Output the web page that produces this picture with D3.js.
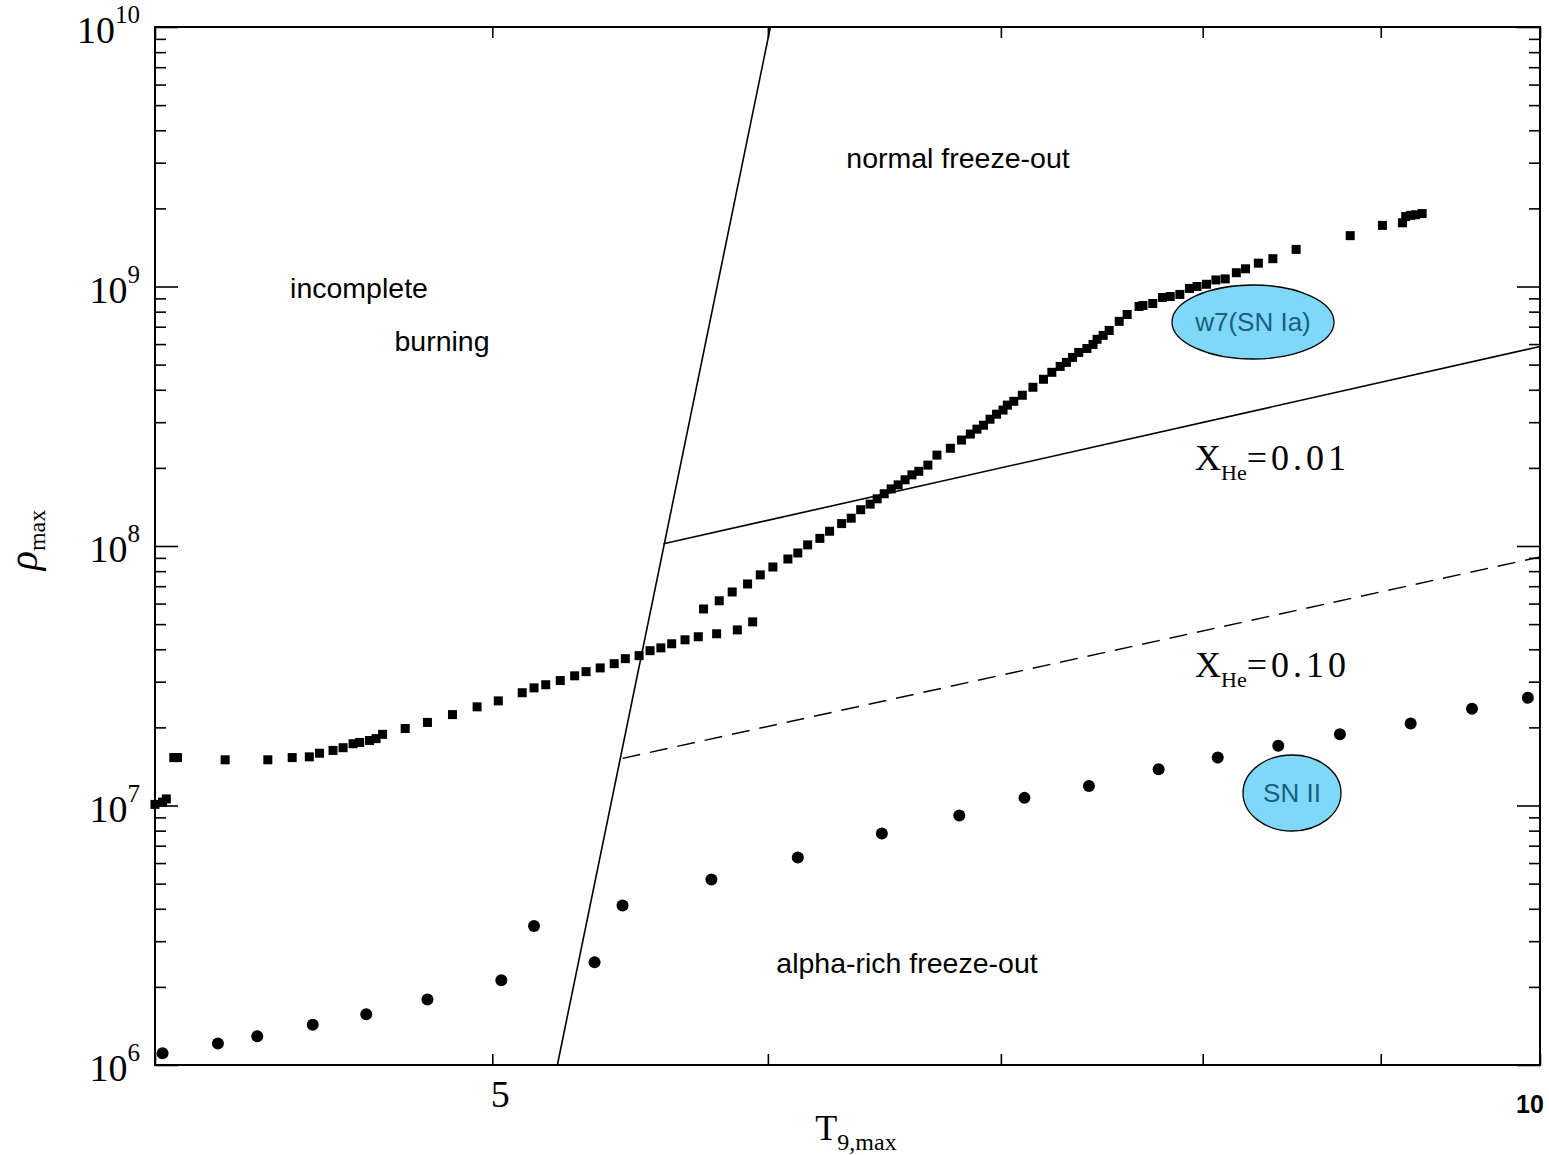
<!DOCTYPE html>
<html>
<head>
<meta charset="utf-8">
<script src="https://cdn.jsdelivr.net/npm/d3@7"></script>
<style>
  body { margin: 0; background: #fff; }
  text { fill: #000; }
</style>
</head>
<body>
<div id="chart"></div>
<script>
// W7 (SN Ia) trajectories, T9 max vs rho max
const w7T = [4.00, 4.02, 4.03, 4.05, 4.06, 4.19, 4.31, 4.38, 4.43, 4.46, 4.50, 4.53, 4.56, 4.58, 4.61, 4.63, 4.65,
  4.72, 4.79, 4.87, 4.95, 5.02, 5.10, 5.14, 5.18, 5.23, 5.28, 5.32, 5.37, 5.42, 5.46, 5.51, 5.55, 5.59, 5.63,
  5.68, 5.73, 5.80, 5.88, 5.94,
  5.75, 5.81, 5.86, 5.92, 5.97, 6.02, 6.08, 6.12, 6.16, 6.21, 6.25, 6.30, 6.34, 6.38, 6.42, 6.45, 6.48, 6.51,
  6.54, 6.57, 6.60, 6.63, 6.67, 6.71, 6.77, 6.82, 6.86, 6.89, 6.92, 6.95, 6.98, 7.01, 7.03, 7.06, 7.10, 7.15,
  7.20, 7.24, 7.28, 7.31, 7.34, 7.37, 7.41, 7.44, 7.46, 7.49, 7.52, 7.57, 7.61, 7.67, 7.69, 7.74, 7.79, 7.83,
  7.88, 7.93, 7.97, 8.02, 8.07, 8.12, 8.18, 8.23, 8.30, 8.38, 8.51, 8.82, 9.01, 9.13, 9.15, 9.18, 9.21, 9.25];
const w7Rho = [1.01e7, 1.03e7, 1.06e7, 1.53e7, 1.53e7, 1.50e7, 1.50e7, 1.53e7, 1.54e7, 1.59e7, 1.63e7, 1.67e7,
  1.73e7, 1.75e7, 1.78e7, 1.81e7, 1.88e7, 1.98e7, 2.09e7, 2.24e7, 2.40e7, 2.53e7, 2.72e7, 2.84e7, 2.92e7,
  3.03e7, 3.16e7, 3.28e7, 3.39e7, 3.52e7, 3.68e7, 3.78e7, 3.95e7, 4.05e7, 4.20e7, 4.35e7, 4.47e7, 4.59e7,
  4.75e7, 5.10e7,
  5.72e7, 6.15e7, 6.65e7, 7.14e7, 7.74e7, 8.30e7, 8.91e7, 9.40e7, 1.01e8, 1.07e8, 1.14e8, 1.22e8, 1.28e8,
  1.38e8, 1.45e8, 1.52e8, 1.59e8, 1.66e8, 1.72e8, 1.80e8, 1.88e8, 1.94e8, 2.05e8, 2.24e8, 2.38e8, 2.56e8,
  2.70e8, 2.82e8, 2.92e8, 3.08e8, 3.22e8, 3.34e8, 3.49e8, 3.61e8, 3.81e8, 4.09e8, 4.39e8, 4.67e8, 4.92e8,
  5.10e8, 5.33e8, 5.57e8, 5.77e8, 5.98e8, 6.26e8, 6.48e8, 6.77e8, 7.34e8, 7.80e8, 8.38e8, 8.45e8, 8.60e8,
  9.07e8, 9.15e8, 9.32e8, 9.83e8, 1.00e9, 1.02e9, 1.06e9, 1.07e9, 1.13e9, 1.17e9, 1.23e9, 1.28e9, 1.39e9,
  1.57e9, 1.72e9, 1.76e9, 1.86e9, 1.88e9, 1.89e9, 1.91e9];

// SN II trajectories
const sn2T = [4.02, 4.17, 4.28, 4.44, 4.60, 4.79, 5.03, 5.14, 5.35, 5.45, 5.78, 6.12, 6.47, 6.81, 7.11, 7.42,
  7.77, 8.08, 8.41, 8.76, 9.18, 9.56, 9.92];
const sn2Rho = [1.11e6, 1.21e6, 1.29e6, 1.43e6, 1.57e6, 1.79e6, 2.12e6, 3.43e6, 2.49e6, 4.12e6, 5.19e6, 6.31e6,
  7.80e6, 9.16e6, 1.07e7, 1.19e7, 1.38e7, 1.53e7, 1.70e7, 1.88e7, 2.07e7, 2.36e7, 2.60e7];

// boundary lines
const burnLineT = [5.22, 6.01];
const burnLineRho = [1e6, 1e10];
const he001T = [5.60, 10];
const he001Rho = [1.02e8, 5.87e8];
const he010T = [5.45, 10];
const he010Rho = [1.52e7, 9.07e7];

const xTicks = [4, 5, 6, 7, 8, 9, 10];
const yMajor = [1e6, 1e7, 1e8, 1e9, 1e10];
const yExp = ["6", "7", "8", "9", "10"];

const width = 1549;
const height = 1155;
const mLeft = 155, mRight = 1540, mTop = 27, mBottom = 1065;

const svg = d3.select("#chart")
  .append("svg")
  .attr("width", width)
  .attr("height", height)
  .style("font-family", "'Liberation Serif', 'DejaVu Serif', serif");

const x = d3.scaleLog().domain([4, 10]).range([mLeft, mRight]);
const y = d3.scaleLog().domain([1e6, 1e10]).range([mBottom, mTop]);

// minor y ticks 2..9 per decade
const yMinor = [];
yMajor.slice(0, -1).forEach(d => {
  for (let m = 2; m <= 9; m++) yMinor.push(d * m);
});

function styleAxis(g) {
  g.select(".domain").remove();
  g.selectAll(".tick line").attr("stroke", "#000").attr("stroke-width", 1.6);
}

// axes ticks (inward)
svg.append("g").attr("transform", `translate(0,${mBottom})`)
  .call(d3.axisBottom(x).tickValues(xTicks).tickSize(-11).tickFormat(""))
  .call(styleAxis);
svg.append("g").attr("transform", `translate(0,${mTop})`)
  .call(d3.axisTop(x).tickValues(xTicks).tickSize(-11).tickFormat(""))
  .call(styleAxis);
svg.append("g").attr("transform", `translate(${mLeft},0)`)
  .call(d3.axisLeft(y).tickValues(yMajor).tickSize(-23).tickFormat(""))
  .call(styleAxis);
svg.append("g").attr("transform", `translate(${mLeft},0)`)
  .call(d3.axisLeft(y).tickValues(yMinor).tickSize(-11).tickFormat(""))
  .call(styleAxis);
svg.append("g").attr("transform", `translate(${mRight},0)`)
  .call(d3.axisRight(y).tickValues(yMajor).tickSize(-23).tickFormat(""))
  .call(styleAxis);
svg.append("g").attr("transform", `translate(${mRight},0)`)
  .call(d3.axisRight(y).tickValues(yMinor).tickSize(-11).tickFormat(""))
  .call(styleAxis);

// frame
svg.append("rect")
  .attr("x", mLeft).attr("y", mTop)
  .attr("width", mRight - mLeft).attr("height", mBottom - mTop)
  .attr("fill", "none").attr("stroke", "#000").attr("stroke-width", 2);

// y tick labels 10^n
const yLab = svg.append("g").selectAll("text")
  .data(yMajor)
  .enter().append("text")
  .attr("x", 140)
  .attr("y", d => y(d) + 16)
  .attr("text-anchor", "end")
  .attr("font-size", 38);
yLab.append("tspan").text("10");
yLab.append("tspan")
  .attr("font-size", 25)
  .attr("dy", -20)
  .text((d, i) => yExp[i]);

// x tick labels
svg.append("text")
  .attr("x", x(5) + 8).attr("y", 1107)
  .attr("text-anchor", "middle")
  .attr("font-size", 38)
  .text("5");
svg.append("text")
  .attr("x", x(10) - 10).attr("y", 1113)
  .attr("text-anchor", "middle")
  .attr("font-size", 25)
  .attr("font-weight", "bold")
  .style("font-family", "'Liberation Sans', Arial, sans-serif")
  .text("10");

// axis titles
const xt = svg.append("text")
  .attr("x", 856).attr("y", 1140)
  .attr("text-anchor", "middle")
  .attr("font-size", 36);
xt.append("tspan").text("T");
xt.append("tspan").attr("font-size", 24).attr("dy", 10).text("9,max");

const yt = svg.append("text")
  .attr("transform", "translate(37,540) rotate(-90)")
  .attr("text-anchor", "middle")
  .attr("font-size", 40);
yt.append("tspan").attr("font-style", "italic").text("ρ");
yt.append("tspan").attr("font-size", 24).attr("dy", 8).text("max");

// boundary lines
const line = d3.line().x(d => x(d[0])).y(d => y(d[1]));
svg.append("path")
  .datum(d3.zip(burnLineT, burnLineRho))
  .attr("d", line)
  .attr("fill", "none").attr("stroke", "#000").attr("stroke-width", 1.6);
svg.append("path")
  .datum(d3.zip(he001T, he001Rho))
  .attr("d", line)
  .attr("fill", "none").attr("stroke", "#000").attr("stroke-width", 1.6);
svg.append("path")
  .datum(d3.zip(he010T, he010Rho))
  .attr("d", line)
  .attr("fill", "none").attr("stroke", "#000").attr("stroke-width", 1.4)
  .attr("stroke-dasharray", "18,10");

// W7 squares
const sq = 9;
svg.append("g")
  .selectAll("rect")
  .data(d3.zip(w7T, w7Rho))
  .enter().append("rect")
  .attr("x", d => x(d[0]) - sq / 2)
  .attr("y", d => y(d[1]) - sq / 2)
  .attr("width", sq).attr("height", sq)
  .attr("fill", "#000");

// SN II circles
svg.append("g")
  .selectAll("circle")
  .data(d3.zip(sn2T, sn2Rho))
  .enter().append("circle")
  .attr("cx", d => x(d[0]))
  .attr("cy", d => y(d[1]))
  .attr("r", 6)
  .attr("fill", "#000");

// region labels
const sans = "'Liberation Sans', Arial, sans-serif";
const regions = [
  { t: "normal freeze-out", x: 958, y: 168 },
  { t: "incomplete", x: 359, y: 298 },
  { t: "burning", x: 442, y: 351 },
  { t: "alpha-rich freeze-out", x: 907, y: 973 }
];
svg.append("g").selectAll("text")
  .data(regions)
  .enter().append("text")
  .attr("x", d => d.x).attr("y", d => d.y)
  .attr("text-anchor", "middle")
  .attr("font-size", 28.5)
  .style("font-family", sans)
  .text(d => d.t);

// X_He labels
const heLabels = [
  { v: "=0.01", x: 1195, y: 470 },
  { v: "=0.10", x: 1195, y: 677 }
];
const he = svg.append("g").selectAll("text")
  .data(heLabels)
  .enter().append("text")
  .attr("x", d => d.x).attr("y", d => d.y)
  .attr("font-size", 36);
he.append("tspan").text("X");
he.append("tspan").attr("font-size", 22).attr("dy", 10).text("He");
he.append("tspan").attr("dy", -10).attr("letter-spacing", 4).text(d => d.v);

// bubbles
const bubbles = [
  { t: "w7(SN Ia)", cx: 1253, cy: 322, rx: 81, ry: 37 },
  { t: "SN II", cx: 1292, cy: 793, rx: 49, ry: 38 }
];
const b = svg.append("g").selectAll("g")
  .data(bubbles)
  .enter().append("g");
b.append("ellipse")
  .attr("cx", d => d.cx).attr("cy", d => d.cy)
  .attr("rx", d => d.rx).attr("ry", d => d.ry)
  .attr("fill", "#80d8f8")
  .attr("stroke", "#000").attr("stroke-width", 1.3);
b.append("text")
  .attr("x", d => d.cx).attr("y", d => d.cy + 9)
  .attr("text-anchor", "middle")
  .attr("font-size", 26)
  .style("font-family", sans)
  .style("fill", "#17607f")
  .text(d => d.t);
</script>
</body>
</html>
